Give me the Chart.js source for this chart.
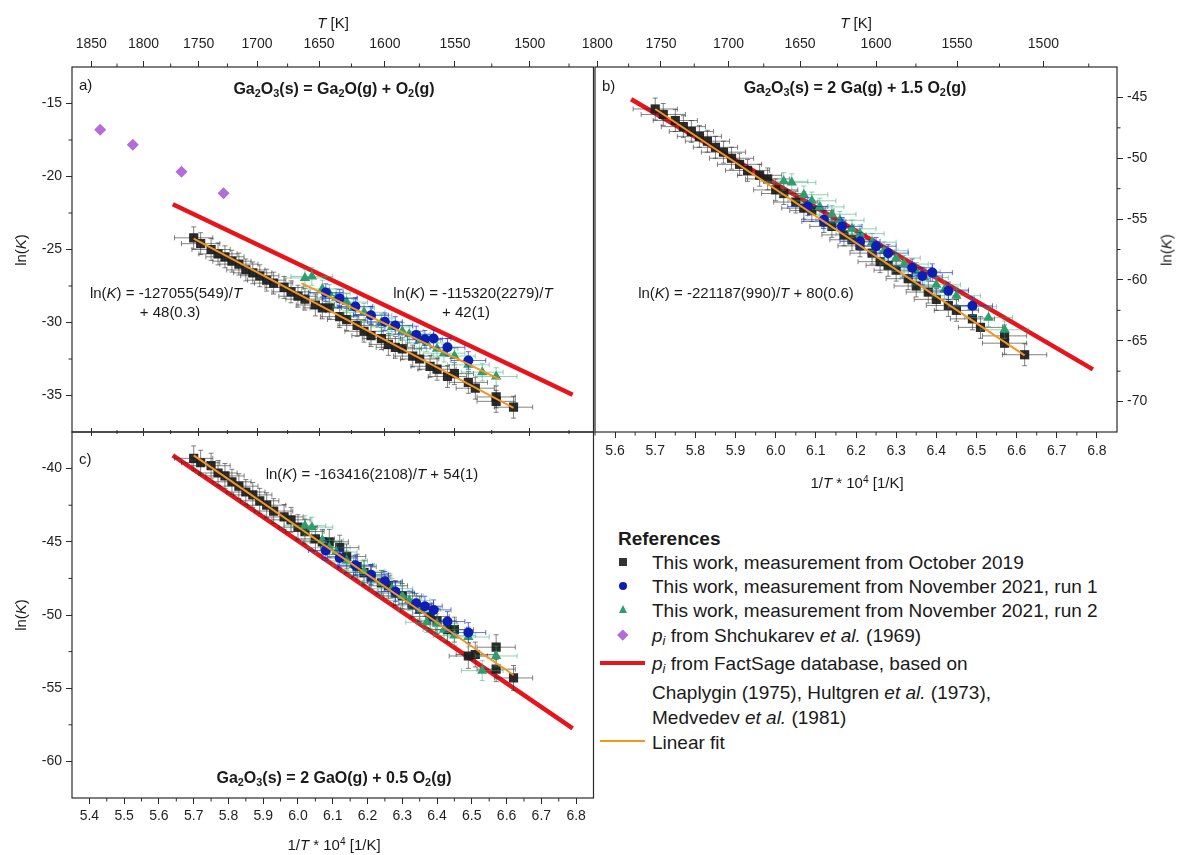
<!DOCTYPE html>
<html>
<head>
<meta charset="utf-8">
<script src="https://cdn.jsdelivr.net/npm/chart.js@4.4.1/dist/chart.umd.min.js"></script>
<style>
html,body{margin:0;padding:0;background:#fff;}
body{width:1182px;height:855px;position:relative;overflow:hidden;font-family:"Liberation Sans",Arial,sans-serif;color:#1a1a1a;}
canvas{position:absolute;}
.t{position:absolute;white-space:nowrap;line-height:1;font-size:15px;}
.c{transform:translate(-50%,-50%);}
.l{transform:translate(0,-50%);}
.b{font-weight:bold;font-size:16px;}
.rot{transform:translate(-50%,-50%) rotate(-90deg);}
sub{font-size:0.68em;vertical-align:-0.28em;line-height:0;}
sup{font-size:0.68em;vertical-align:0.45em;line-height:0;}
.lg{position:absolute;left:652px;font-size:19px;line-height:1;white-space:nowrap;transform:translate(0,-50%);}
.mk{position:absolute;}
</style>
</head>
<body>
<canvas id="ca" width="600" height="440" style="left:0;top:0;width:600px;height:440px"></canvas>
<canvas id="cb" width="612" height="500" style="left:570px;top:0;width:612px;height:500px"></canvas>
<canvas id="cc" width="600" height="435" style="left:0;top:420px;width:600px;height:435px"></canvas>

<!-- axis titles -->
<div class="t c" style="left:333px;top:22px"><i>T</i> [K]</div>
<div class="t c" style="left:856px;top:22px"><i>T</i> [K]</div>
<div class="t rot" style="left:20px;top:250px">ln(<i>K</i>)</div>
<div class="t rot" style="left:20px;top:615px">ln(<i>K</i>)</div>
<div class="t rot" style="left:1166px;top:250px">ln(<i>K</i>)</div>
<div class="t c" style="left:857px;top:482px">1/<i>T</i> * 10<sup>4</sup> [1/K]</div>
<div class="t c" style="left:334px;top:844px">1/<i>T</i> * 10<sup>4</sup> [1/K]</div>

<!-- panel a -->
<div class="t l" style="left:79px;top:84px">a)</div>
<div class="t c b" style="left:334px;top:89px">Ga<sub>2</sub>O<sub>3</sub>(s) = Ga<sub>2</sub>O(g) + O<sub>2</sub>(g)</div>
<div class="t c" style="left:166px;top:292px">ln(<i>K</i>) = -127055(549)/<i>T</i></div>
<div class="t c" style="left:170px;top:311px">+ 48(0.3)</div>
<div class="t c" style="left:473px;top:292px">ln(<i>K</i>) = -115320(2279)/<i>T</i></div>
<div class="t c" style="left:466px;top:311px">+ 42(1)</div>

<!-- panel b -->
<div class="t l" style="left:602px;top:85px">b)</div>
<div class="t c b" style="left:855px;top:88px">Ga<sub>2</sub>O<sub>3</sub>(s) = 2 Ga(g) + 1.5 O<sub>2</sub>(g)</div>
<div class="t c" style="left:746px;top:292px">ln(<i>K</i>) = -221187(990)/<i>T</i> + 80(0.6)</div>

<!-- panel c -->
<div class="t l" style="left:79px;top:458px">c)</div>
<div class="t c" style="left:372px;top:473px">ln(<i>K</i>) = -163416(2108)/<i>T</i> + 54(1)</div>
<div class="t c b" style="left:334px;top:778px">Ga<sub>2</sub>O<sub>3</sub>(s) = 2 GaO(g) + 0.5 O<sub>2</sub>(g)</div>

<!-- legend -->
<div class="lg" style="left:618px;top:538px;font-weight:bold">References</div>
<div class="mk" style="left:619px;top:558px;width:8px;height:8px;background:#333"></div>
<div class="lg" style="top:562px">This work, measurement from October 2019</div>
<div class="mk" style="left:619px;top:582px;width:8px;height:8px;border-radius:50%;background:#0d1fb2"></div>
<div class="lg" style="top:586px">This work, measurement from November 2021, run 1</div>
<div class="mk" style="left:619px;top:605px;width:0;height:0;border-left:4.5px solid transparent;border-right:4.5px solid transparent;border-bottom:8px solid #2e9e6e"></div>
<div class="lg" style="top:610px">This work, measurement from November 2021, run 2</div>
<div class="mk" style="left:619px;top:631px;width:7.5px;height:7.5px;background:#b56bd8;transform:rotate(45deg)"></div>
<div class="lg" style="top:635px"><i>p<sub>i</sub></i> from Shchukarev <i>et al.</i> (1969)</div>
<div class="mk" style="left:600px;top:661px;width:45px;height:4px;background:#e8141c"></div>
<div class="lg" style="top:663px"><i>p<sub>i</sub></i> from FactSage database, based on</div>
<div class="lg" style="top:692px">Chaplygin (1975), Hultgren <i>et al.</i> (1973),</div>
<div class="lg" style="top:717px">Medvedev <i>et al.</i> (1981)</div>
<div class="mk" style="left:600px;top:740px;width:45px;height:2px;background:#f7931e"></div>
<div class="lg" style="top:742px">Linear fit</div>

<script>
// ================= DATA =================
// x = 1/T * 10^4 [1/K]
const xOct2019 = [5.70, 5.72, 5.75, 5.77, 5.79, 5.81, 5.83, 5.85, 5.87, 5.89, 5.91, 5.93, 5.96, 5.98, 6.00, 6.02, 6.05, 6.07, 6.09, 6.12, 6.14, 6.17, 6.19, 6.21, 6.24, 6.26, 6.28, 6.30, 6.33, 6.35, 6.38, 6.40, 6.43, 6.45, 6.49, 6.51, 6.57, 6.57, 6.62];
const lnKaOct2019 = [-24.2, -24.6, -25.0, -25.3, -25.5, -25.8, -26.0, -26.4, -26.6, -26.8, -27.1, -27.3, -27.6, -27.9, -28.2, -28.4, -28.8, -29.0, -29.0, -29.6, -29.8, -30.2, -30.6, -30.9, -31.1, -31.5, -31.7, -31.8, -32.3, -32.5, -33.0, -33.2, -33.7, -33.5, -34.1, -34.5, -35.1, -35.4, -35.8];
const lnKbOct2019 = [-45.95, -46.4, -46.9, -47.4, -47.8, -48.2, -48.6, -49.1, -49.5, -50.0, -50.5, -51.0, -51.4, -51.7, -52.6, -52.9, -53.6, -54.1, -54.3, -55.2, -55.6, -56.3, -56.7, -57.2, -57.8, -58.5, -58.8, -59.2, -59.9, -60.5, -61.0, -61.6, -62.1, -62.5, -63.2, -63.9, -64.6, -65.2, -66.15];
const lnKcOct2019 = [-39.3, -39.6, -39.8, -40.3, -40.5, -40.9, -41.2, -41.6, -41.8, -42.2, -42.5, -42.9, -43.3, -43.5, -44.0, -44.3, -44.8, -45.0, -45.0, -45.4, -46.0, -46.7, -47.1, -47.4, -47.8, -48.0, -48.5, -48.7, -49.3, -49.6, -50.1, -50.4, -51.0, -51.0, -52.8, -52.7, -52.2, -53.7, -54.3];

const xNov2021r1 = [6.08, 6.12, 6.165, 6.21, 6.25, 6.28, 6.34, 6.365, 6.39, 6.43, 6.49];
const lnKaNov2021r1 = [-27.95, -28.35, -28.9, -29.5, -29.95, -30.2, -30.85, -31.15, -31.1, -31.7, -32.6];
const lnKbNov2021r1 = [-53.97, -55.06, -55.6, -56.83, -57.23, -57.8, -59.0, -59.68, -59.4, -60.9, -62.13];
const lnKcNov2021r1 = [-45.6, -46.1, -46.6, -47.25, -47.7, -48.4, -49.2, -49.4, -49.65, -50.45, -51.2];

const xNov2021r2 = [6.02, 6.04, 6.07, 6.09, 6.11, 6.14, 6.16, 6.19, 6.21, 6.24, 6.27, 6.30, 6.32, 6.35, 6.37, 6.40, 6.42, 6.45, 6.49, 6.53, 6.57];
const lnKaNov2021r2 = [-26.95, -26.85, -27.7, -28.0, -28.3, -28.6, -29.0, -29.3, -29.5, -30.0, -30.3, -30.6, -30.8, -31.2, -31.4, -31.8, -32.1, -32.3, -32.9, -33.4, -33.7];
const lnKbNov2021r2 = [-51.9, -52.0, -53.0, -53.5, -54.0, -54.6, -55.1, -55.8, -56.2, -56.9, -57.6, -58.2, -58.7, -59.3, -59.8, -60.4, -60.8, -61.3, -62.2, -63.1, -64.1];
const lnKcNov2021r2 = [-43.9, -44.0, -44.9, -45.4, -45.7, -46.3, -46.6, -47.0, -47.3, -47.8, -48.2, -48.7, -49.0, -49.6, -50.5, -50.6, -51.0, -51.4, -51.5, -53.8, -52.8];

const xShchukarev = [5.431, 5.525, 5.665, 5.786];
const lnKaShchukarev = [-16.79, -17.83, -19.68, -21.15];

const xFactSage = [5.64, 6.79];
const lnKaFactSage = [-21.9, -34.95];
const lnKbFactSage = [-45.15, -67.35];
const lnKcFactSage = [-39.1, -57.75];

const xFitOct = [5.70, 6.62];
const lnKaFitOct = [-24.25, -35.85];
const xFitNov = [6.01, 6.58];
const lnKaFitNov = [-27.3, -33.9];
const lnKbFit = [-45.95, -66.2];
const lnKcFit = [-39.1, -54.1];

// error bar half-widths
const errXOct = 0.055, errXNov1 = 0.05, errXNov2 = 0.06;
const errYa = 0.75, errYb = 0.9, errYc = 0.85;

// tick labels
const tempMajorA = [1850, 1800, 1750, 1700, 1650, 1600, 1550, 1500];
const tempMajorB = [1800, 1750, 1700, 1650, 1600, 1550, 1500];
const tempMinor = [1825, 1775, 1725, 1675, 1625, 1575, 1525, 1475];
const xTicksAC = [5.4, 5.5, 5.6, 5.7, 5.8, 5.9, 6.0, 6.1, 6.2, 6.3, 6.4, 6.5, 6.6, 6.7, 6.8];
const xTicksB = [5.6, 5.7, 5.8, 5.9, 6.0, 6.1, 6.2, 6.3, 6.4, 6.5, 6.6, 6.7, 6.8];
const xMinor = [5.45, 5.55, 5.65, 5.75, 5.85, 5.95, 6.05, 6.15, 6.25, 6.35, 6.45, 6.55, 6.65, 6.75];
const yTicksA = [-15, -20, -25, -30, -35];
const yMinorA = [-17.5, -22.5, -27.5, -32.5];
const yTicksB = [-45, -50, -55, -60, -65, -70];
const yMinorB = [-47.5, -52.5, -57.5, -62.5, -67.5];
const yTicksC = [-40, -45, -50, -55, -60];
const yMinorC = [-42.5, -47.5, -52.5, -57.5];

// ================= HELPERS =================
const FONT = "'Liberation Sans', Arial, sans-serif";
const invT = temps => temps.map(T => 1e4 / T);
const pts = (xs, ys) => xs.map((x, i) => ({ x, y: ys[i] }));
const tFmt = v => String(Math.round(1e4 / v));
const x1Fmt = v => v.toFixed(1);
const nFmt = v => String(v);

function axis(position, min, max, values, o) {
  return {
    type: 'linear', position, min, max,
    afterBuildTicks: s => { s.ticks = values.filter(v => v >= min - 1e-9 && v <= max + 1e-9).map(v => ({ value: v })); },
    afterFit: s => {
      if (o.w != null) s.width = o.w;
      if (o.h != null) s.height = o.h;
      s.paddingLeft = 0; s.paddingRight = 0; s.paddingTop = 0; s.paddingBottom = 0;
    },
    grid: { drawOnChartArea: false, drawTicks: true, tickLength: o.tl ?? 6, color: '#2a2a2a', lineWidth: 1 },
    border: { display: false },
    ticks: {
      display: !!o.fmt, callback: o.fmt || (() => ''), autoSkip: false, maxRotation: 0, minRotation: 0,
      padding: o.pad ?? 4, color: '#1f1f1f', font: { family: FONT, size: 14 }
    }
  };
}

function markers(label, xs, ys, style, color, radius, errX, errY, errColor, order) {
  return {
    label, data: pts(xs, ys), pointStyle: style, pointRadius: radius, pointBackgroundColor: color,
    pointBorderWidth: 0, pointBorderColor: color, showLine: false, order,
    errX, errY, errColor
  };
}
function line(label, xs, ys, color, width, order) {
  return {
    label, data: pts(xs, ys), showLine: true, pointRadius: 0, borderColor: color, borderWidth: width,
    backgroundColor: color, fill: false, order, borderCapStyle: 'butt'
  };
}

const MINOR = {};

const errorBars = {
  id: 'errorBars',
  beforeDatasetDraw(chart, args) {
    const ds = chart.data.datasets[args.index];
    if (ds.errX == null) return;
    const xs = chart.scales.x, ys = chart.scales.y, ctx = chart.ctx, a = chart.chartArea;
    ctx.save();
    ctx.beginPath(); ctx.rect(a.left, a.top, a.right - a.left, a.bottom - a.top); ctx.clip();
    ctx.strokeStyle = ds.errColor; ctx.lineWidth = 1;
    const c = 2.5;
    ds.data.forEach(p => {
      const px = xs.getPixelForValue(p.x), py = ys.getPixelForValue(p.y);
      const xa = xs.getPixelForValue(p.x - ds.errX), xb = xs.getPixelForValue(p.x + ds.errX);
      const ya = ys.getPixelForValue(p.y - ds.errY), yb = ys.getPixelForValue(p.y + ds.errY);
      ctx.beginPath();
      ctx.moveTo(xa, py); ctx.lineTo(xb, py);
      ctx.moveTo(xa, py - c); ctx.lineTo(xa, py + c);
      ctx.moveTo(xb, py - c); ctx.lineTo(xb, py + c);
      ctx.moveTo(px, ya); ctx.lineTo(px, yb);
      ctx.moveTo(px - c, ya); ctx.lineTo(px + c, ya);
      ctx.moveTo(px - c, yb); ctx.lineTo(px + c, yb);
      ctx.stroke();
    });
    ctx.restore();
  }
};

const frame = {
  id: 'frame',
  afterDraw(chart) {
    const ctx = chart.ctx, a = chart.chartArea;
    ctx.save();
    ctx.strokeStyle = '#2a2a2a'; ctx.lineWidth = 1.2;
    ctx.strokeRect(a.left, a.top, a.right - a.left, a.bottom - a.top);
    ctx.lineWidth = 1;
    (MINOR[chart.canvas.id] || []).forEach(m => {
      const s = chart.scales[m.axis];
      m.values.forEach(v => {
        if (v < s.min || v > s.max) return;
        const p = s.getPixelForValue(v);
        const L = m.len || 3.5;
        ctx.beginPath();
        if (s.position === 'top') { ctx.moveTo(p, a.top); ctx.lineTo(p, a.top - L); }
        else if (s.position === 'bottom') { ctx.moveTo(p, a.bottom); ctx.lineTo(p, a.bottom + L); }
        else if (s.position === 'left') { ctx.moveTo(a.left, p); ctx.lineTo(a.left - L, p); }
        else { ctx.moveTo(a.right, p); ctx.lineTo(a.right + L, p); }
        ctx.stroke();
      });
    });
    ctx.restore();
  }
};

const COL = {
  oct: 'rgba(28,28,28,0.93)', octErr: 'rgba(50,50,50,0.6)',
  nov1: '#0d1fb2', nov1Err: 'rgba(20,40,210,0.65)',
  nov2: '#2e9e6e', nov2Err: 'rgba(40,165,110,0.5)',
  shch: '#b56bd8', red: '#e8141c', orange: '#f7931e'
};

function baseOptions(scales, padding) {
  return {
    responsive: false, animation: false, events: [],
    layout: { padding },
    plugins: { legend: { display: false }, tooltip: { enabled: false } },
    scales
  };
}

// ================= PANEL A =================
MINOR.ca = [
  { axis: 'y', values: yMinorA },
  { axis: 'xT', values: invT(tempMinor) },
  { axis: 'x', values: invT(tempMinor), len: 2 }
];
new Chart(document.getElementById('ca'), {
  type: 'scatter',
  data: {
    datasets: [
      line('Linear fit (Oct 2019)', xFitOct, lnKaFitOct, COL.orange, 2, 1),
      line('Linear fit (Nov 2021)', xFitNov, lnKaFitNov, COL.orange, 2, 1),
      markers('Shchukarev et al. (1969)', xShchukarev, lnKaShchukarev, 'rectRot', COL.shch, 6, null, null, null, 2),
      markers('November 2021, run 1', xNov2021r1, lnKaNov2021r1, 'circle', COL.nov1, 5, errXNov1, errYa * 0.8, COL.nov1Err, 3),
      markers('November 2021, run 2', xNov2021r2, lnKaNov2021r2, 'triangle', COL.nov2, 6, errXNov2, errYa * 0.8, COL.nov2Err, 4),
      markers('October 2019', xOct2019, lnKaOct2019, 'rect', COL.oct, 6.5, errXOct, errYa, COL.octErr, 5),
      line('FactSage', xFactSage, lnKaFactSage, COL.red, 4.5, 6)
    ]
  },
  options: baseOptions({
    x: axis('bottom', 5.35, 6.85, invT(tempMajorA), { h: 8, tl: 4 }),
    xT: axis('top', 5.35, 6.85, invT(tempMajorA), { h: 67, fmt: tFmt, pad: 8 }),
    y: axis('left', -37.5, -12.5, yTicksA, { w: 72, fmt: nFmt })
  }, { left: 0, top: 0, right: 6, bottom: 0 }),
  plugins: [errorBars, frame]
});

// ================= PANEL B =================
MINOR.cb = [
  { axis: 'y', values: yMinorB },
  { axis: 'x', values: xMinor },
  { axis: 'xT', values: invT(tempMinor) }
];
new Chart(document.getElementById('cb'), {
  type: 'scatter',
  data: {
    datasets: [
      line('Linear fit', xFitOct, lnKbFit, COL.orange, 2, 1),
      markers('November 2021, run 1', xNov2021r1, lnKbNov2021r1, 'circle', COL.nov1, 5, errXNov1, errYb * 0.8, COL.nov1Err, 3),
      markers('November 2021, run 2', xNov2021r2, lnKbNov2021r2, 'triangle', COL.nov2, 6, errXNov2, errYb * 0.8, COL.nov2Err, 4),
      markers('October 2019', xOct2019, lnKbOct2019, 'rect', COL.oct, 6.5, errXOct, errYb, COL.octErr, 5),
      line('FactSage', xFactSage, lnKbFactSage, COL.red, 4.5, 6)
    ]
  },
  options: baseOptions({
    x: axis('bottom', 5.55, 6.85, xTicksB, { h: 68, fmt: x1Fmt, pad: 5 }),
    xT: axis('top', 5.55, 6.85, invT(tempMajorB), { h: 67, fmt: tFmt, pad: 8 }),
    y: axis('right', -72.5, -42.5, yTicksB, { w: 65, fmt: nFmt })
  }, { left: 25, top: 0, right: 0, bottom: 0 }),
  plugins: [errorBars, frame]
});

// ================= PANEL C =================
MINOR.cc = [
  { axis: 'y', values: yMinorC },
  { axis: 'x', values: xMinor },
  { axis: 'xT', values: invT(tempMinor), len: 2 }
];
new Chart(document.getElementById('cc'), {
  type: 'scatter',
  data: {
    datasets: [
      line('Linear fit', xFitOct, lnKcFit, COL.orange, 2, 1),
      markers('November 2021, run 1', xNov2021r1, lnKcNov2021r1, 'circle', COL.nov1, 5, errXNov1, errYc * 0.8, COL.nov1Err, 3),
      markers('November 2021, run 2', xNov2021r2, lnKcNov2021r2, 'triangle', COL.nov2, 6, errXNov2, errYc * 0.8, COL.nov2Err, 4),
      markers('October 2019', xOct2019, lnKcOct2019, 'rect', COL.oct, 6.5, errXOct, errYc, COL.octErr, 5),
      line('FactSage', xFactSage, lnKcFactSage, COL.red, 4.5, 6)
    ]
  },
  options: baseOptions({
    x: axis('bottom', 5.35, 6.85, xTicksAC, { h: 57, fmt: x1Fmt, pad: 4 }),
    xT: axis('top', 5.35, 6.85, invT(tempMajorA), { h: 12, tl: 4 }),
    y: axis('left', -62.5, -37.5, yTicksC, { w: 72, fmt: nFmt })
  }, { left: 0, top: 0, right: 6, bottom: 0 }),
  plugins: [errorBars, frame]
});
</script>
</body>
</html>
